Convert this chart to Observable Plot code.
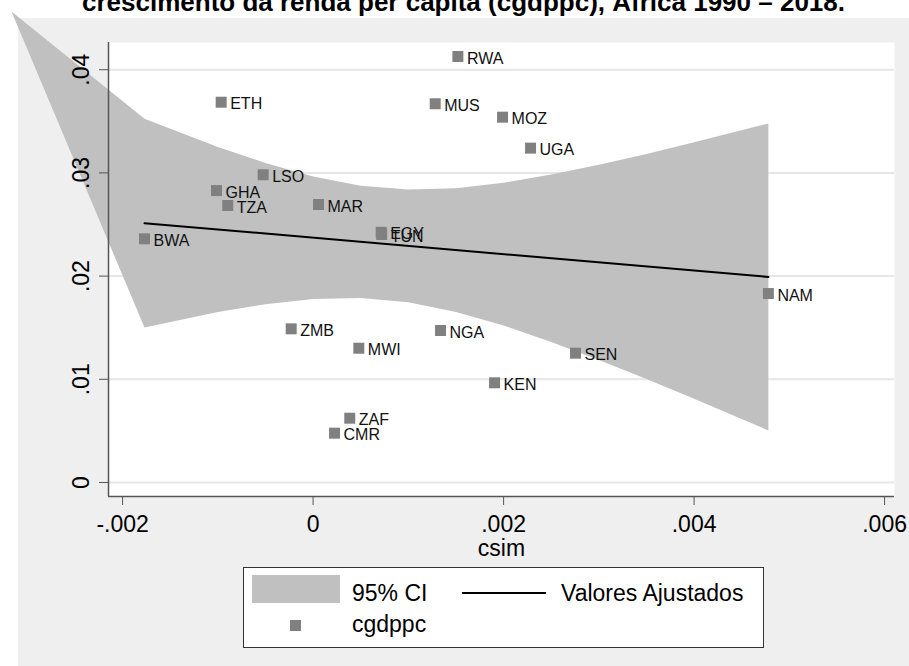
<!DOCTYPE html>
<html>
<head>
<meta charset="utf-8">
<script src="https://cdn.jsdelivr.net/npm/d3@7"></script>
<script src="https://cdn.jsdelivr.net/npm/@observablehq/plot@0.6"></script>
<style>
  html, body { margin: 0; padding: 0; background: #ffffff; }
  body { font-family: "Liberation Sans", Arial, sans-serif; }
  #page { position: relative; width: 909px; height: 666px; overflow: hidden; }
  #bg { position: absolute; left: 18px; top: 18px; width: 891px; height: 648px; background: #efefef; }
  #chart { position: absolute; left: 0; top: 0; }
  #title { position: absolute; left: 0; width: 927px; top: -11px; text-align: center;
           font: bold 26px/26px "Liberation Sans", Arial, sans-serif; color: #000; white-space: nowrap; }
  #legend { position: absolute; left: 243px; top: 567px; width: 519px; height: 79px;
            background: #fff; border: 1px solid #333; }
  #legend .t { position: absolute; font: 23px/23px "Liberation Sans", Arial, sans-serif; color: #000; white-space: nowrap; }
</style>
</head>
<body>
<div id="page">
  <div id="bg"></div>
  <div id="chart"></div>
  <div id="title">crescimento da renda per capita (cgdppc), África 1990 – 2018.</div>
  <div id="legend"></div>
</div>
<script>
// ---- data ----
const countries = ["RWA","ETH","MUS","MOZ","UGA","LSO","GHA","TZA","MAR","EGY","TUN","BWA","NAM","ZMB","NGA","MWI","SEN","KEN","ZAF","CMR"];
const csim   = [0.00152,-0.000965,0.001282,0.001989,0.002283,-0.000524,-0.001014,-0.000896,0.000057,0.000715,0.00072,-0.00177,0.00478,-0.00023,0.001338,0.00048,0.002755,0.001905,0.000385,0.000225];
const cgdppc = [0.04128,0.03685,0.0367,0.0354,0.0324,0.02982,0.02829,0.02684,0.02694,0.02425,0.02403,0.02361,0.01831,0.01489,0.01473,0.01301,0.01253,0.00966,0.00623,0.00478];

// fitted values (Valores Ajustados)
const fitX = [-0.00177, 0.00478];
const fitY = [0.02513, 0.01992];

// 95% CI band
const ciX  = [-0.00177,-0.001,-0.0005,0,0.0005,0.001,0.0015,0.002,0.0025,0.003,0.0035,0.004,0.00478];
const ciLo = [0.01502,0.01651,0.01728,0.01778,0.01788,0.01746,0.01652,0.01521,0.01362,0.01188,0.01002,0.00812,0.00505];
const ciHi = [0.03524,0.03252,0.03096,0.02966,0.02876,0.02838,0.02852,0.02905,0.02984,0.03079,0.03184,0.03296,0.03479];
// stray vertex of the band polygon (drawn outside the plot region in the original)
const bandStrayX = [-0.003167];
const bandStrayY = [0.04564];

// axes
const xRange = [-0.002148, 0.006104];
const yRange = [-0.001357, 0.042636];
const xTicks = [-0.002, 0, 0.002, 0.004, 0.006];
const xTickLabels = ["-.002","0",".002",".004",".006"];
const yTicks = [0, 0.01, 0.02, 0.03, 0.04];
const yTickLabels = ["0",".01",".02",".03",".04"];
const xTitle = "csim";

// legend
const legendItems = ["95% CI", "Valores Ajustados", "cgdppc"];

// ---- build tables ----
const points = countries.map((c, i) => ({c, x: csim[i], y: cgdppc[i]}));
const fit = fitX.map((x, i) => ({x, y: fitY[i]}));
const band = [
  ...bandStrayX.map((x, i) => ({x, y: bandStrayY[i]})),
  ...ciX.map((x, i) => ({x, y: ciHi[i]})),
  ...ciX.map((x, i) => ({x, y: ciLo[i]})).reverse()
];

const FONT = '"Liberation Sans", Arial, sans-serif';
const AX = "#555555";

const chart = Plot.plot({
  width: 909,
  height: 560,
  marginLeft: 108,
  marginRight: 15,
  marginTop: 42,
  marginBottom: 64,
  x: {domain: xRange},
  y: {domain: yRange},
  style: {background: "transparent", overflow: "visible", fontFamily: FONT, color: "#000"},
  marks: [
    Plot.frame({fill: "white", stroke: "none"}),
    Plot.gridY(yTicks, {stroke: "#e6e6e6", strokeOpacity: 1, strokeWidth: 2}),
    Plot.line(band, {x: "x", y: "y", fill: "#c0c0c0", stroke: "none"}),
    Plot.line(fit, {x: "x", y: "y", stroke: "#000", strokeWidth: 2}),
    Plot.dot(points, {x: "x", y: "y", symbol: "square", r: 6.2, fill: "#808080", stroke: "none"}),
    Plot.text(points, {x: "x", y: "y", text: "c", textAnchor: "start", dx: 9, dy: 2, fontSize: 16, fill: "#111"}),
    Plot.ruleX(xRange.slice(0, 1), {stroke: AX, strokeWidth: 1.5}),
    Plot.ruleY(yRange.slice(0, 1), {stroke: AX, strokeWidth: 1.5}),
    Plot.axisX(xTicks, {tickSize: 9, tickPadding: 10, fontSize: 23, stroke: AX, fill: "#000",
      tickFormat: d => xTickLabels[xTicks.indexOf(d)], label: null}),
    Plot.text([xTitle], {frameAnchor: "bottom", dy: 52, fontSize: 23, lineAnchor: "middle", fill: "#000"}),
    Plot.axisY(yTicks, {tickSize: 9, stroke: AX, tickFormat: () => "", label: null}),
    Plot.text(yTicks, {y: d => d, text: d => yTickLabels[yTicks.indexOf(d)], frameAnchor: "left",
      rotate: -90, dx: -27, fontSize: 23, lineAnchor: "middle", textAnchor: "middle", fill: "#000"})
  ]
});
document.getElementById("chart").appendChild(chart);

// ---- legend ----
const lg = document.getElementById("legend");
function add(html) { lg.insertAdjacentHTML("beforeend", html); }
add('<div style="position:absolute;left:8px;top:7px;width:88px;height:28px;background:#c0c0c0"></div>');
add('<div class="t" style="left:108px;top:14px">' + legendItems[0] + '</div>');
add('<div style="position:absolute;left:218px;top:24px;width:84px;height:2px;background:#000"></div>');
add('<div class="t" style="left:317px;top:14px">' + legendItems[1] + '</div>');
add('<div style="position:absolute;left:46px;top:52px;width:11px;height:11px;background:#808080"></div>');
add('<div class="t" style="left:108px;top:45px">' + legendItems[2] + '</div>');
</script>
</body>
</html>
